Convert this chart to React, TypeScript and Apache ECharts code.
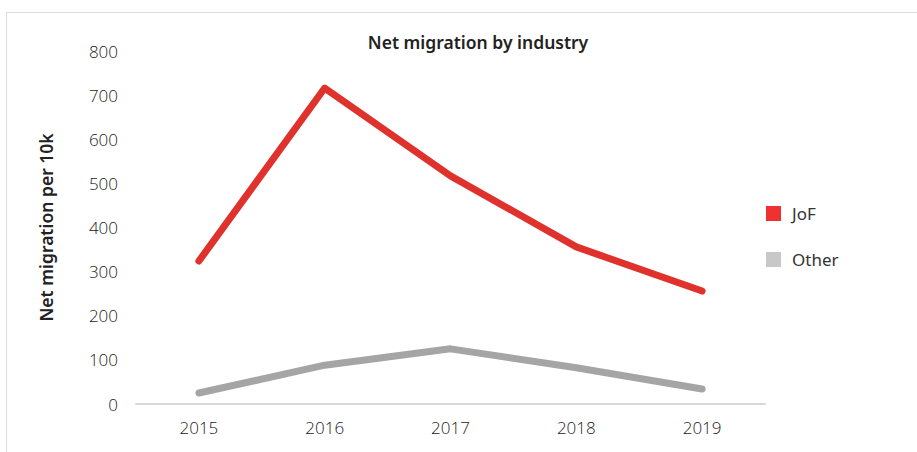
import React, { useEffect, useRef } from "react";
import * as echarts from "echarts";

const years = ["2015", "2016", "2017", "2018", "2019"];
const jofValues = [324, 716, 517, 356, 256];
const otherValues = [25, 88, 125, 82, 34];

export default function App() {
  const ref = useRef<HTMLDivElement>(null);
  useEffect(() => {
    const chart = echarts.init(ref.current!, null, { renderer: "svg" });
    const font = "'Noto Sans', sans-serif";
    const lightFont = "'Open Sans', 'Noto Sans', sans-serif";
    chart.setOption({
      animation: false,
      backgroundColor: "#ffffff",
      title: {
        text: "Net migration by industry",
        left: 473,
        textAlign: "center",
        top: 28,
        textStyle: { fontFamily: font, fontSize: 17.5, fontWeight: 600, color: "#222" },
      },
      graphic: [
        {
          type: "rect",
          shape: { x: 6.5, y: 12.5, width: 1000, height: 600 },
          style: { fill: "none", stroke: "#dddddd", lineWidth: 1 },
          silent: true,
        },
      ],
      legend: {
        orient: "vertical",
        left: 761,
        top: 200,
        itemWidth: 15,
        itemHeight: 15,
        itemGap: 29,
        icon: "rect",
        textStyle: { fontFamily: font, fontSize: 17, color: "#333", padding: [0, 0, 0, 6] },
        data: [
          { name: "JoF", itemStyle: { color: "#ef3131" } },
          { name: "Other", itemStyle: { color: "#c8c8c8" } },
        ],
      },
      grid: { left: 136, right: 152, top: 51, bottom: 48 },
      xAxis: {
        type: "category",
        data: years,
        boundaryGap: true,
        axisLine: { lineStyle: { color: "#d9d9d9", width: 2 } },
        axisTick: { show: false },
        axisLabel: { fontFamily: lightFont, fontSize: 17, fontWeight: 300, color: "#1a1a1a", margin: 15 },
      },
      yAxis: {
        type: "value",
        min: 0,
        max: 800,
        interval: 100,
        name: "Net migration per 10k",
        nameLocation: "middle",
        nameGap: 81,
        nameTextStyle: { fontFamily: font, fontSize: 17.5, fontWeight: 600, color: "#222" },
        axisLine: { show: false },
        axisTick: { show: false },
        splitLine: { show: false },
        axisLabel: { fontFamily: lightFont, fontSize: 17, fontWeight: 300, color: "#1a1a1a", margin: 18 },
      },
      series: [
        {
          name: "JoF",
          type: "line",
          data: jofValues,
          symbol: "none",
          itemStyle: { color: "#ef3131" },
          lineStyle: { color: "#e0322c", width: 7, cap: "round", join: "round" },
        },
        {
          name: "Other",
          type: "line",
          data: otherValues,
          symbol: "none",
          itemStyle: { color: "#c8c8c8" },
          lineStyle: { color: "#a5a5a5", width: 7, cap: "round", join: "round" },
        },
      ],
    });
    return () => chart.dispose();
  }, []);
  return (
    <div
      ref={ref}
      style={{ position: "absolute", left: 0, top: 0, width: 917, height: 452 }}
    />
  );
}
